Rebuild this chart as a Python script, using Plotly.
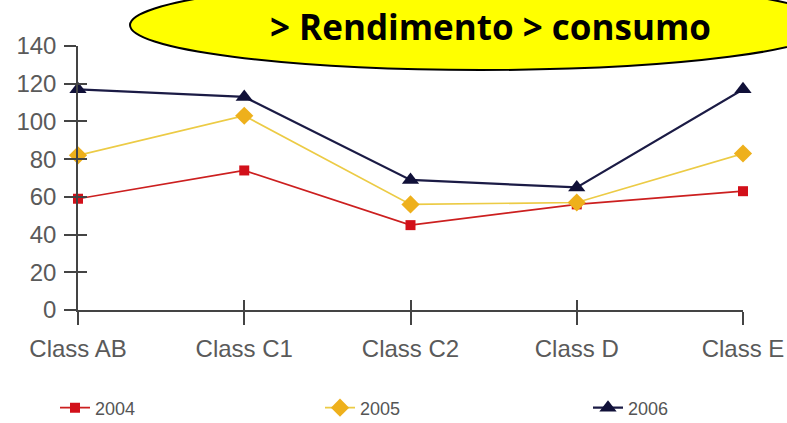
import plotly.graph_objects as go

categories = ["Class AB", "Class C1", "Class C2", "Class D", "Class E"]
s2004 = [59, 74, 45, 56, 63]
s2005 = [82, 103, 56, 57, 83]
s2006 = [117, 113, 69, 65, 117]
series_names = ["2004", "2005", "2006"]
y_ticks = [0, 20, 40, 60, 80, 100, 120, 140]
title_text = "> Rendimento > consumo"

W, H = 787, 423
OFF = 0  # body margin removed via post_script
# desired screen positions of the plot area
SX0, SX1, SY0, SY1 = 78, 743, 46, 310
ML, MR = SX0 - OFF, W - (SX1 - OFF)
MT, MB = SY0 - OFF, H - (SY1 - OFF)
PW, PH = W - ML - MR, H - MT - MB

def px_x(p):
    return (p - OFF - ML) / PW

def px_y(p):
    return (H - MB - (p - OFF)) / PH

fig = go.Figure()
fig.add_trace(go.Scatter(
    x=categories, y=s2004, name=series_names[0], mode="lines+markers",
    line=dict(color="#cc1f1f", width=1.7),
    marker=dict(symbol="square", size=10, color="#d2101a"),
    cliponaxis=False, legend="legend"))
fig.add_trace(go.Scatter(
    x=categories, y=s2005, name=series_names[1], mode="lines+markers",
    line=dict(color="#eccb45", width=1.7),
    marker=dict(symbol="diamond", size=14, color="#eeb01c"),
    cliponaxis=False, legend="legend2"))
fig.add_trace(go.Scatter(
    x=categories, y=s2006, name=series_names[2], mode="lines+markers",
    line=dict(color="#1b1b45", width=2.2),
    marker=dict(symbol="triangle-up", size=15, color="#101038"),
    cliponaxis=False, legend="legend3"))
# hidden trace so the overlay axes (inner half of crossing ticks) get categories
fig.add_trace(go.Scatter(
    x=categories, y=s2004, mode="none", xaxis="x2", yaxis="y2",
    showlegend=False, hoverinfo="skip"))

tickfont = dict(family="Liberation Sans, Arial, sans-serif", size=24, color="#5a5a5a")
legfont = dict(family="Liberation Sans, Arial, sans-serif", size=18, color="#555")
n = len(categories)

def leg(xs):
    return dict(orientation="h", x=px_x(xs), y=px_y(408), xanchor="left", yanchor="middle",
                font=legfont, bgcolor="rgba(0,0,0,0)")

fig.update_layout(
    width=W, height=H,
    margin=dict(l=ML, r=MR, t=MT, b=MB, autoexpand=False),
    paper_bgcolor="white", plot_bgcolor="white",
    xaxis=dict(type="category", range=[0, n - 1], showgrid=False, zeroline=False,
               showline=True, linecolor="#444", linewidth=1.5,
               ticks="outside", ticklen=13, tickwidth=1.5, tickcolor="#444",
               tickfont=tickfont, ticklabelstandoff=3),
    yaxis=dict(range=[0, 140], tickvals=y_ticks, showgrid=False, zeroline=False,
               showline=True, linecolor="#444", linewidth=1.5,
               ticks="outside", ticklen=12, tickwidth=1.5, tickcolor="#444",
               tickfont=tickfont, ticklabelstandoff=3),
    xaxis2=dict(type="category", overlaying="x", anchor="y", range=[0, n - 1],
                showgrid=False, zeroline=False, showline=False,
                ticks="inside", ticklen=10, tickwidth=1.5, tickcolor="#444",
                showticklabels=False),
    yaxis2=dict(overlaying="y", anchor="x", range=[0, 140], tickvals=y_ticks,
                showgrid=False, zeroline=False, showline=False,
                ticks="inside", ticklen=9, tickwidth=1.5, tickcolor="#444",
                showticklabels=False),
    legend=leg(55),
    legend2=leg(320),
    legend3=leg(588),
    showlegend=True,
)

fig.add_shape(type="circle", xref="paper", yref="paper",
              x0=px_x(130), x1=px_x(832), y0=px_y(70), y1=px_y(-20),
              fillcolor="#ffff00", line=dict(color="black", width=2), layer="above")
fig.add_annotation(text="<b>" + title_text + "</b>", xref="paper", yref="paper",
                   x=px_x(490), y=px_y(27), xanchor="center", yanchor="middle",
                   showarrow=False,
                   font=dict(family="Open Sans, sans-serif", size=35, color="black"))

fig.write_html("out.html",
               config={"displayModeBar": False},
               post_script="document.body.style.margin='0';document.body.style.overflow='hidden';")
